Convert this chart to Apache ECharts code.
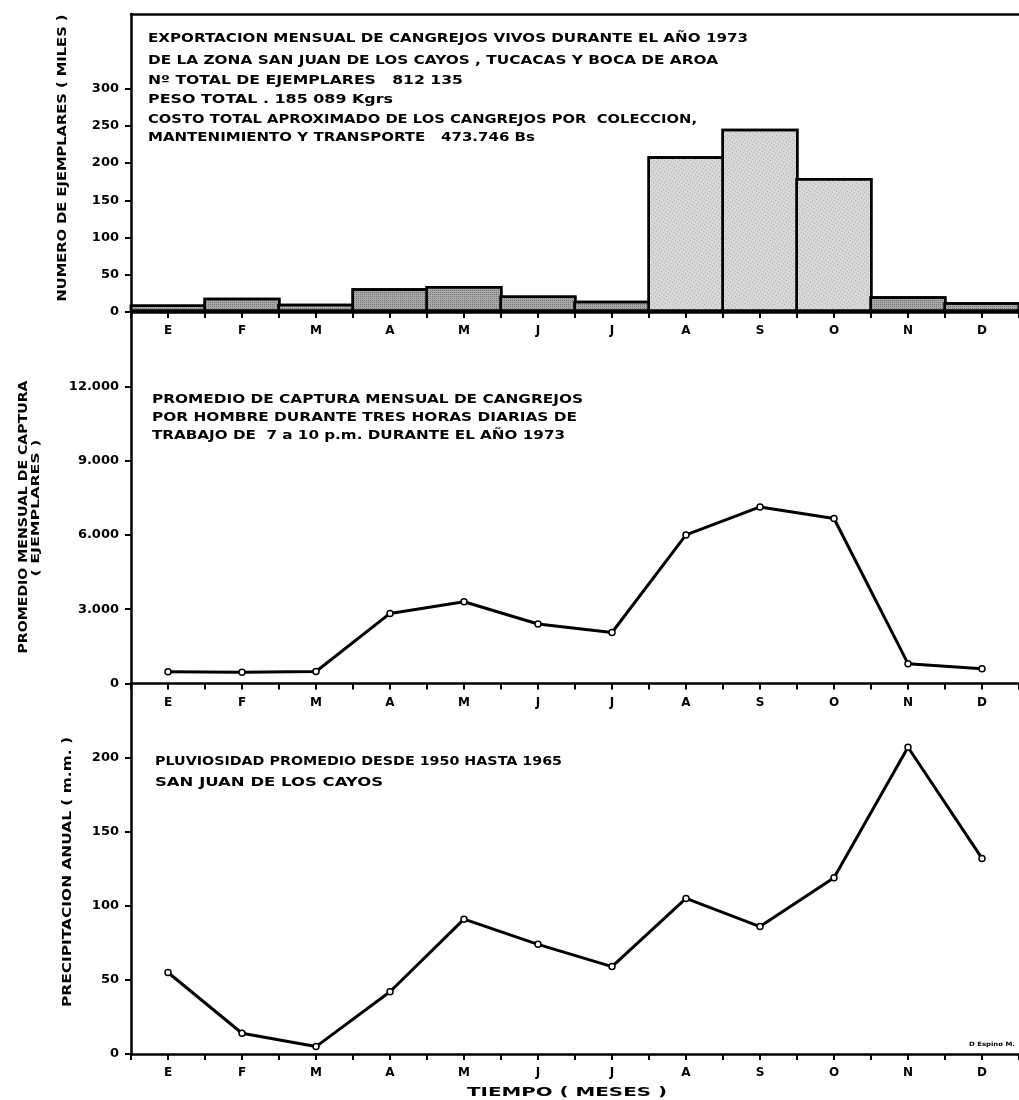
<!DOCTYPE html>
<html><head><meta charset="utf-8">
<script src="https://cdn.jsdelivr.net/npm/echarts@6/dist/echarts.min.js"></script>
<style>html,body{margin:0;padding:0;background:#fff}#c{width:1019px;height:1100px}</style>
</head><body><div id="c"></div>
<script>
// ---- data ----
const months = ['E','F','M','A','M','J','J','A','S','O','N','D'];
const exportMiles = [10,19,11,32,35,22,15,209,246,180,21,13];
const capturaPromedio = [470,450,485,2830,3300,2400,2060,6000,7130,6660,800,600];
const pluviosidad = [55,14,5,42,91,74,59,105,86,119,207,132];
const ticks1 = [0,50,100,150,200,250,300];
const ticks2 = [0,3000,6000,9000,12000];
const ticks3 = [0,50,100,150,200];
const centerTicks = months.map((m,i)=>i+0.5);

const FONT = 'DejaVu Sans';
const chart = echarts.init(document.getElementById('c'), null, {renderer:'canvas'});
const L = 131, R = 1019;

function catAxis(g){ return {type:'category', gridIndex:g, data:months, boundaryGap:true, position:'bottom',
  axisLine:{show:true, lineStyle:{color:'#000',width:2.5}},
  axisTick:{show:true, interval:0, alignWithLabel:false, length:6, lineStyle:{width:2,color:'#000'}},
  axisLabel:{color:'#000', fontFamily:FONT, fontWeight:'bold', fontSize:12, margin:13, interval:0},
  splitLine:{show:false}, z:5}; }
function midAxis(g){ return {type:'value', gridIndex:g, min:0, max:12, position:'bottom',
  axisLine:{show:false}, axisTick:{show:true, customValues:centerTicks, length:6, lineStyle:{width:2,color:'#000'}},
  axisLabel:{show:false}, splitLine:{show:false}}; }
function yAx(g, max, interval, vals, fmt){ return {type:'value', gridIndex:g, min:0, max:max, interval:interval,
  axisLine:{show:true, lineStyle:{color:'#000', width:2.5}},
  axisTick:{show:true, customValues:vals, length:6, lineStyle:{width:2,color:'#000'}},
  axisLabel:{customValues:vals, color:'#000', fontFamily:FONT, fontWeight:'bold', fontSize:13, margin:12, formatter:fmt},
  splitLine:{show:false}}; }

const mctx = document.createElement('canvas').getContext('2d');
function txt(str, x, y, size, targetW, rot, align){
  const font = 'bold ' + size + 'px "' + FONT + '"';
  mctx.font = font;
  const w = mctx.measureText(str).width;
  return {type:'text', x:x, y:y, rotation: rot||0, scaleX: targetW / w, scaleY: 1,
    style:{text:str, font:font, fill:'#000', textAlign: align||'left', textVerticalAlign:'middle'}};
}
const V = Math.PI/2;

const lowStyle = {color:'#a8a8a8', decal:{symbol:'rect', symbolSize:0.8, color:'rgba(60,60,60,0.55)', dashArrayX:[1,1], dashArrayY:[1,1], rotation:0}};
const tallStyle = {color:'#d9d9d9', decal:{symbol:'rect', symbolSize:1, color:'rgba(70,70,70,0.4)', dashArrayX:[[1,2]], dashArrayY:[1,2], rotation:0.6}};

const option = {
  animation:false,
  backgroundColor:'#fff',
  aria:{enabled:true, decal:{show:true}},
  grid:[
    {left:L, width:R-L, top:14, height:298},
    {left:L, width:R-L, top:312, height:371.5},
    {left:L, width:R-L, top:683.5, height:370.5}
  ],
  xAxis:[
    catAxis(0), midAxis(0),
    {type:'value', gridIndex:0, min:0, max:12, position:'top', axisLine:{show:true, lineStyle:{color:'#000',width:2.5}}, axisTick:{show:false}, axisLabel:{show:false}, splitLine:{show:false}},
    catAxis(1), midAxis(1),
    catAxis(2), midAxis(2)
  ],
  yAxis:[
    yAx(0, 400, 50, ticks1),
    yAx(1, 15000, 3000, ticks2, v => v===0 ? '0' : (v/1000) + '.000'),
    yAx(2, 250, 50, ticks3)
  ],
  series:[
    {type:'bar', xAxisIndex:0, yAxisIndex:0, barWidth:77, barGap:0,
     itemStyle:{borderColor:'#000', borderWidth:2.5},
     data: exportMiles.map(v => ({value:v, itemStyle: v > 100 ? tallStyle : lowStyle}))},
    {type:'line', xAxisIndex:3, yAxisIndex:1, data:capturaPromedio, symbol:'circle', symbolSize:6,
     lineStyle:{color:'#000', width:3}, itemStyle:{color:'#fff', borderColor:'#000', borderWidth:1.5}, z:3},
    {type:'line', xAxisIndex:5, yAxisIndex:2, data:pluviosidad, symbol:'circle', symbolSize:6,
     lineStyle:{color:'#000', width:3}, itemStyle:{color:'#fff', borderColor:'#000', borderWidth:1.5}, z:3}
  ],
  graphic:[
    txt('EXPORTACION MENSUAL DE CANGREJOS VIVOS DURANTE EL AÑO 1973', 148, 39, 12, 600),
    txt('DE LA ZONA SAN JUAN DE LOS CAYOS , TUCACAS Y BOCA DE AROA', 148, 61, 12, 570),
    txt('Nº TOTAL DE EJEMPLARES   812 135', 148, 80.5, 12, 315),
    txt('PESO TOTAL . 185 089 Kgrs', 148, 99.5, 12, 245),
    txt('COSTO TOTAL APROXIMADO DE LOS CANGREJOS POR  COLECCION,', 148, 119.5, 12, 549),
    txt('MANTENIMIENTO Y TRANSPORTE   473.746 Bs', 148, 137.5, 12, 387),
    txt('PROMEDIO DE CAPTURA MENSUAL DE CANGREJOS', 152, 399.5, 12, 431),
    txt('POR HOMBRE DURANTE TRES HORAS DIARIAS DE', 152, 417.7, 12, 425),
    txt('TRABAJO DE  7 a 10 p.m. DURANTE EL AÑO 1973', 152, 436, 12, 413),
    txt('PLUVIOSIDAD PROMEDIO DESDE 1950 HASTA 1965', 155, 761.7, 12, 407),
    txt('SAN JUAN DE LOS CAYOS', 155, 782.7, 12, 228),
    txt('NUMERO DE EJEMPLARES ( MILES )', 63, 158, 13, 287, V, 'center'),
    txt('PROMEDIO MENSUAL DE CAPTURA', 24, 517, 12, 273, V, 'center'),
    txt('( EJEMPLARES )', 36, 508, 11, 137, V, 'center'),
    txt('PRECIPITACION ANUAL ( m.m. )', 68, 872, 13, 270, V, 'center'),
    txt('TIEMPO ( MESES )', 567, 1093, 12, 200, 0, 'center'),
    txt('D Espino M.', 992, 1044, 6, 46, 0, 'center')
  ]
};
chart.setOption(option);
</script></body></html>
